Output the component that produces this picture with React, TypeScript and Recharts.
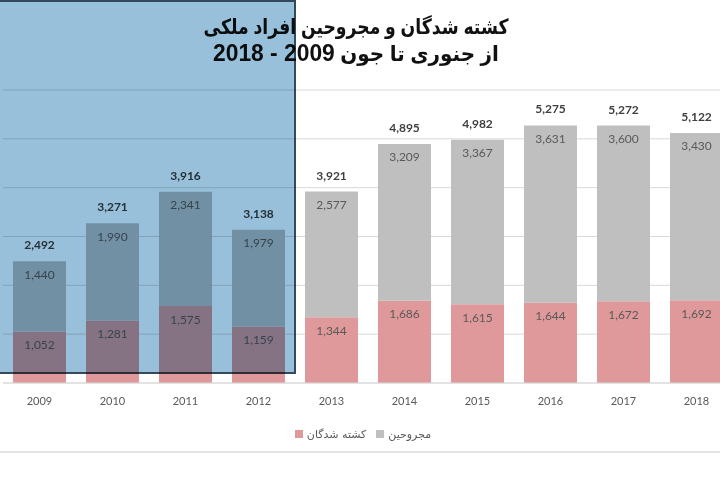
import React from 'react'
import { BarChart, Bar, XAxis, YAxis, CartesianGrid, Legend, LabelList } from 'recharts'

const years = ['2009', '2010', '2011', '2012', '2013', '2014', '2015', '2016', '2017', '2018']
const killed = [1052, 1281, 1575, 1159, 1344, 1686, 1615, 1644, 1672, 1692]
const injured = [1440, 1990, 2341, 1979, 2577, 3209, 3367, 3631, 3600, 3430]
const totals = [2492, 3271, 3916, 3138, 3921, 4895, 4982, 5275, 5272, 5122]
const yTicks = [0, 1000, 2000, 3000, 4000, 5000, 6000]

const killedName = 'کشته شدگان'
const injuredName = 'مجروحین'

const data = years.map((year, i) => ({
  year,
  killed: killed[i],
  injured: injured[i],
  total: totals[i],
}))

const fmt = (v: number) => v.toLocaleString('en-US')
const legendOrder: Record<string, number> = { killed: 0, injured: 1 }

export default function App() {
  return (
    <div style={{ position: 'absolute', left: 0, top: 0, width: 720, height: 480, overflow: 'hidden', background: '#fff' }}>
      <BarChart
        width={740}
        height={480}
        data={data}
        margin={{ top: 90, left: 3, right: 7, bottom: 38 }}
        barCategoryGap={10}
      >
        <CartesianGrid vertical={false} stroke="#d9d9d9" />
        <XAxis
          dataKey="year"
          height={41}
          tickLine={false}
          axisLine={{ stroke: '#d9d9d9' }}
          tickMargin={8}
          tick={{ fontSize: 11, fill: '#595959', fontFamily: 'Lato' }}
        />
        <YAxis hide domain={[0, 6000]} ticks={yTicks} />
        <Legend
          iconType="square"
          iconSize={8}
          itemSorter={(item: any) => legendOrder[item.dataKey] ?? 0}
          formatter={(value) => (
            <span style={{ color: '#595959', fontSize: 11, fontFamily: 'DejaVu Sans' }}>{value}</span>
          )}
        />
        <Bar dataKey="killed" name={killedName} stackId="a" fill="#e0999a" isAnimationActive={false}>
          <LabelList
            dataKey="killed"
            position="insideTop"
            offset={9}
            formatter={fmt}
            style={{ fontSize: 12, fill: '#595959', fontFamily: 'Lato' }}
          />
        </Bar>
        <Bar dataKey="injured" name={injuredName} stackId="a" fill="#bfbfbf" isAnimationActive={false}>
          <LabelList
            dataKey="injured"
            position="insideTop"
            offset={9}
            formatter={fmt}
            style={{ fontSize: 12, fill: '#595959', fontFamily: 'Lato' }}
          />
          <LabelList
            dataKey="total"
            position="top"
            offset={12}
            formatter={fmt}
            style={{ fontSize: 12, fill: '#404040', fontWeight: 'bold', fontFamily: 'Lato' }}
          />
        </Bar>
      </BarChart>

      {/* title */}
      <div
        dir="rtl"
        style={{
          position: 'absolute',
          left: 106,
          top: 14,
          width: 500,
          textAlign: 'center',
          whiteSpace: 'nowrap',
          fontFamily: '"Liberation Sans", "DejaVu Sans", sans-serif',
          fontWeight: 'bold',
          fontSize: 21,
          lineHeight: '26px',
          color: '#111',
        }}
      >
        <div style={{ transform: 'scaleX(0.82)' }}>کشته شدگان و مجروحین افراد ملکی</div>
        <div style={{ transform: 'scaleX(0.95)' }}>
          از جنوری تا جون <span style={{ fontSize: 24 }}>2009 - 2018</span>
        </div>
      </div>

      {/* blue highlight box over the first years */}
      <div
        style={{
          position: 'absolute',
          left: -3,
          top: 0,
          width: 295,
          height: 370,
          background: '#98c0da',
          border: '2px solid #34495a',
          mixBlendMode: 'multiply',
        }}
      />

      <div style={{ position: 'absolute', left: 0, top: 451, width: 720, height: 2, background: '#e3e3e3' }} />
    </div>
  )
}
